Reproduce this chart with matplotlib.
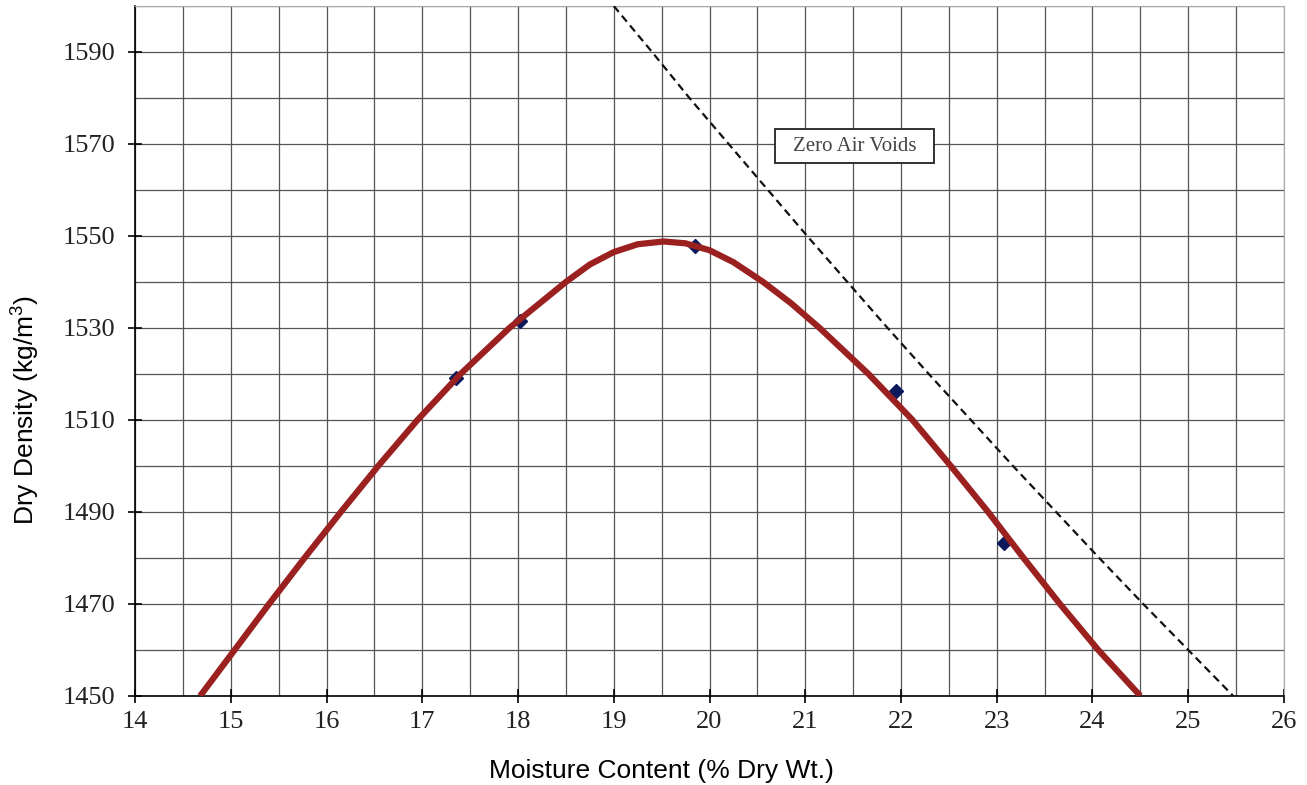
import numpy as np
import matplotlib
matplotlib.use("Agg")
import matplotlib.pyplot as plt
from matplotlib.patches import Rectangle

plt.rcParams["mathtext.fontset"] = "custom"
plt.rcParams["mathtext.rm"] = "Liberation Sans"
plt.rcParams["mathtext.it"] = "Liberation Sans:italic"

# measured compaction points
moisture = [17.35, 18.02, 19.85, 21.95, 23.08]
density = [1519.2, 1531.5, 1547.8, 1516.2, 1483.2]

# fitted compaction curve
curve_x = [14.68, 15.04, 15.40, 15.77, 16.15, 16.54, 16.95, 17.40, 17.91, 18.50,
           18.75, 19.0, 19.25, 19.52, 19.75, 20.0, 20.25, 20.56, 20.85, 21.15,
           21.66, 22.12, 22.52, 22.91, 23.28, 23.66, 24.06, 24.50]
curve_y = [1450, 1460, 1470, 1480, 1490, 1500, 1510, 1520, 1530, 1540,
           1543.8, 1546.5, 1548.2, 1548.8, 1548.4, 1546.9, 1544.3, 1540, 1535.4, 1530,
           1520, 1510, 1500, 1490, 1480, 1470, 1460, 1450]

# zero air voids line
zav_x = [19.00, 19.40, 19.79, 20.20, 20.61, 21.02, 21.44, 21.86, 22.29, 22.73,
         23.17, 23.62, 24.07, 24.53, 25.00, 25.47]
zav_y = [1600, 1590, 1580, 1570, 1560, 1550, 1540, 1530, 1520, 1510,
         1500, 1490, 1480, 1470, 1460, 1450]

xticks = np.arange(14, 27, 1)
yticks = np.arange(1450, 1600, 20)

fig = plt.figure(figsize=(13.07, 7.85), dpi=100)
ax = fig.add_axes([0.1033, 0.1134, 0.8791, 0.879])

ax.set_xlim(14, 26)
ax.set_ylim(1450, 1600)

# grid every 0.5 % and 10 kg/m3
ax.set_xticks(np.arange(14, 26.01, 0.5), minor=True)
ax.set_yticks(np.arange(1450, 1601, 10), minor=True)
ax.grid(which="both", color="#555555", linewidth=0.9)
ax.tick_params(which="minor", length=0)
ax.set_axisbelow(True)

ax.set_xticks(xticks)
ax.set_yticks(yticks)
ax.tick_params(which="major", direction="inout", length=10, width=1.2,
               labelsize=19, color="black")
ax.tick_params(axis="x", pad=6)
ax.tick_params(axis="y", pad=9)
for lab in ax.get_xticklabels() + ax.get_yticklabels():
    lab.set_fontfamily("Liberation Serif")
    lab.set_color("#222222")

ax.spines["left"].set_color("black")
ax.spines["bottom"].set_color("black")
ax.spines["left"].set_linewidth(1.2)
ax.spines["bottom"].set_linewidth(1.2)
ax.spines["top"].set_color("#aaaaaa")
ax.spines["right"].set_color("#aaaaaa")

ax.plot(moisture, density, linestyle="none", marker="D", markersize=7,
        color="#0c1a5c", zorder=3, clip_on=False)
ax.plot(curve_x, curve_y, color="#9b2121", linewidth=4.5, zorder=4,
        solid_capstyle="butt", solid_joinstyle="round")
ax.plot(zav_x, zav_y, color="#111111", linewidth=1.6, linestyle=(0, (3.5, 2.2)), zorder=4)

# label box for the zero air voids line
ax.add_patch(Rectangle((20.684, 1565.9), 1.661, 7.4, facecolor="white",
                       edgecolor="#222222", linewidth=1.3, zorder=5))
ax.text(21.515, 1569.5, "Zero Air Voids", fontsize=15, family="Liberation Serif",
        color="#444444", ha="center", va="center", zorder=6)

ax.set_xlabel("Moisture Content (% Dry Wt.)", fontsize=19,
              family="Liberation Sans")
ax.set_ylabel("Dry Density (kg/m$^{3}$)", fontsize=19,
              family="Liberation Sans")
ax.xaxis.set_label_coords(0.458, -0.092)
ax.yaxis.set_label_coords(-0.081, 0.4145)

fig.savefig("out.png", dpi=100)
